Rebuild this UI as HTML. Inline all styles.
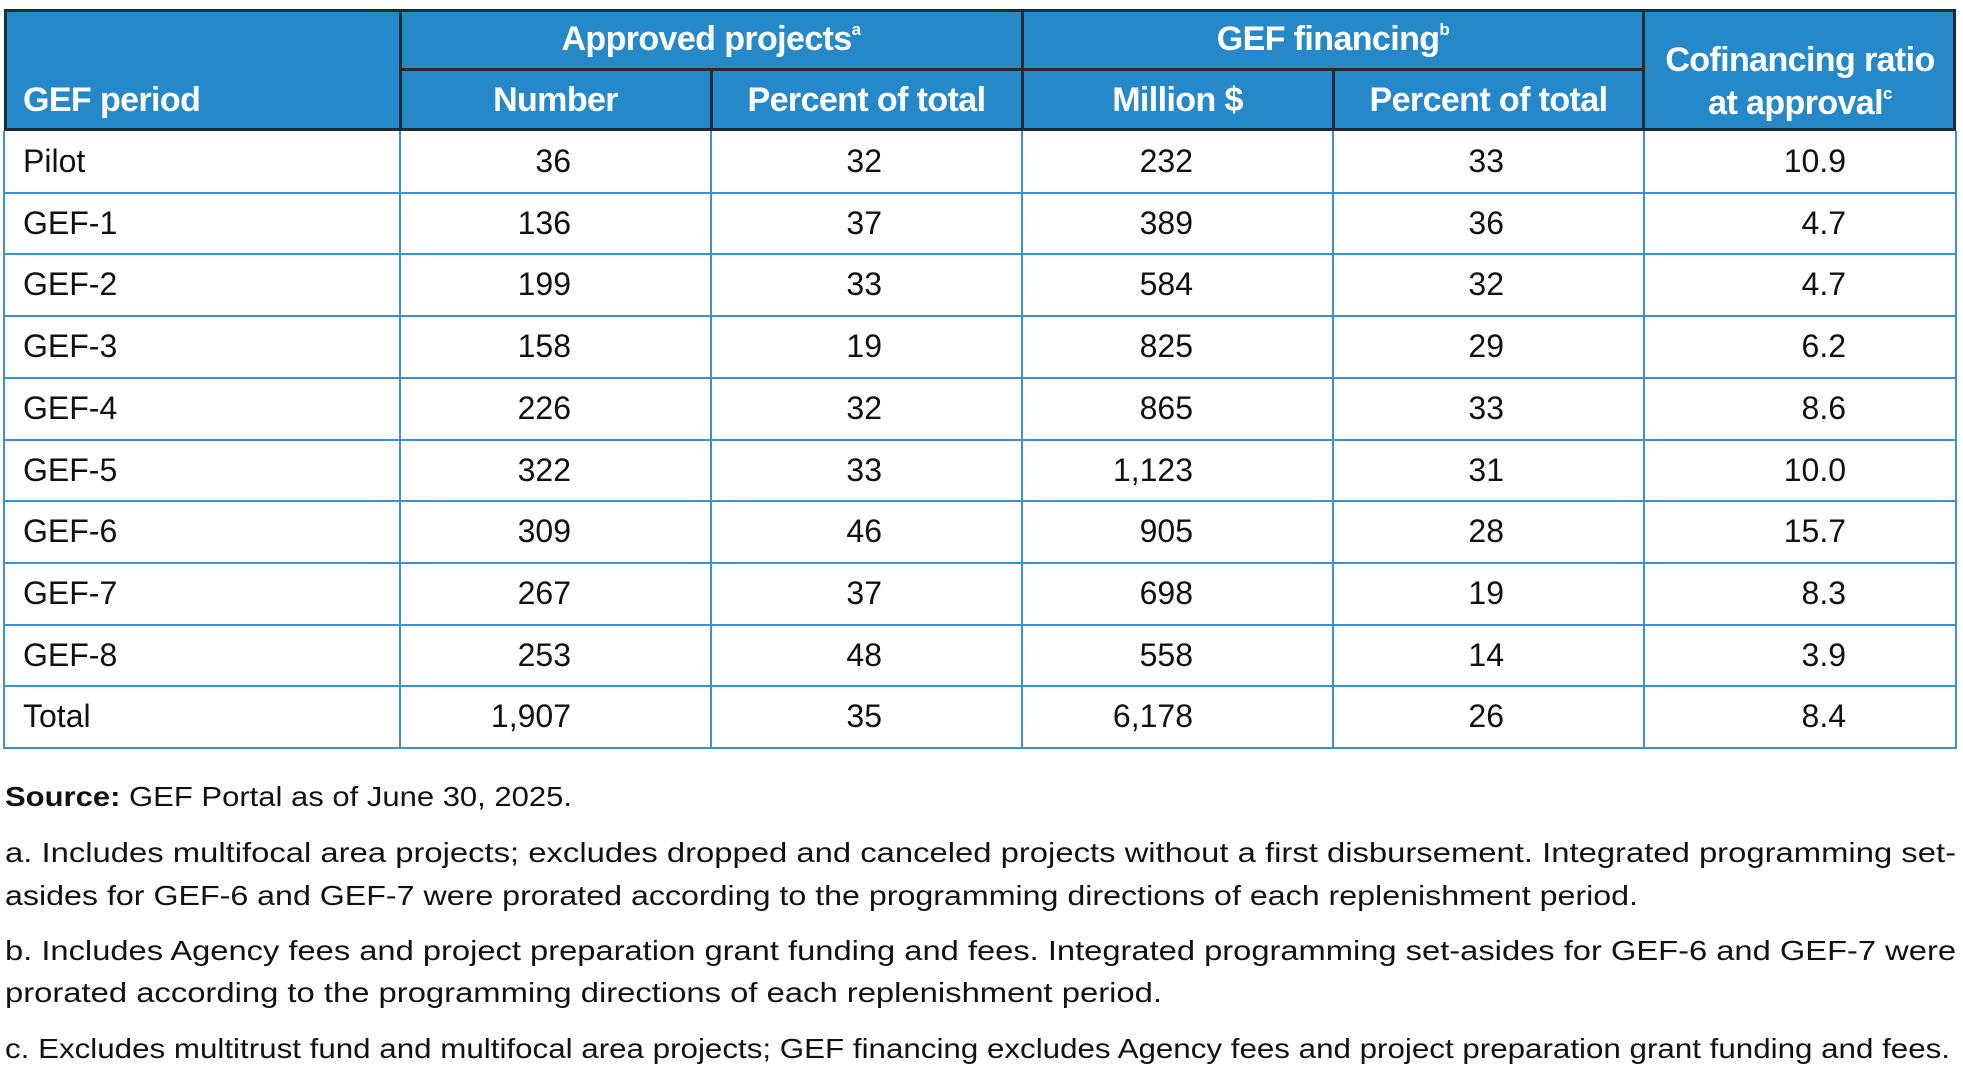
<!DOCTYPE html>
<html><head><meta charset="utf-8">
<style>
body{margin:0;width:1963px;height:1087px;background:#fff;position:relative;overflow:hidden;font-family:"Liberation Sans",sans-serif;}
#hdr{position:absolute;left:4px;top:9px;width:1952px;height:122px;background:#2589c9;box-sizing:border-box;border:3px solid #1b2b3a;}
.hl{position:absolute;background:#1b2b3a;}
.ht{position:absolute;color:#fff;font-weight:bold;font-size:34px;letter-spacing:-0.6px;white-space:nowrap;text-align:center;}
.ht sup{font-size:17px;vertical-align:15px;}
.cell{position:absolute;font-size:32px;color:#111;white-space:nowrap;line-height:61px;}
.gl{position:absolute;background:#3a90d0;}
</style></head><body>
<div id="hdr"></div>
<div class="hl" style="left:399px;top:9px;width:3px;height:122px"></div>
<div class="hl" style="left:1642px;top:9px;width:3px;height:122px"></div>
<div class="hl" style="left:1021px;top:9px;width:3px;height:122px"></div>
<div class="hl" style="left:710px;top:68px;width:3px;height:63px"></div>
<div class="hl" style="left:1332px;top:68px;width:3px;height:63px"></div>
<div class="hl" style="left:399px;top:68px;width:1245px;height:3px"></div>
<div class="ht" style="left:23px;top:81px;text-align:left">GEF period</div>
<div class="ht" style="left:400px;width:622px;top:20px">Approved projects<sup>a</sup></div>
<div class="ht" style="left:1022px;width:622px;top:20px">GEF financing<sup>b</sup></div>
<div class="ht" style="left:400px;width:311px;top:81px">Number</div>
<div class="ht" style="left:711px;width:311px;top:81px">Percent of total</div>
<div class="ht" style="left:1022px;width:311px;top:81px">Million $</div>
<div class="ht" style="left:1333px;width:311px;top:81px">Percent of total</div>
<div class="ht" style="left:1644px;width:312px;top:41px">Cofinancing ratio</div>
<div class="ht" style="left:1644px;width:312px;top:84px">at approval<sup>c</sup></div>
<div id="body"></div>
<svg width="1963" height="1087" style="position:absolute;left:0;top:0">
<g font-family="Liberation Sans, sans-serif" font-size="28" fill="#111">
<text x="5" y="806" textLength="567" lengthAdjust="spacingAndGlyphs"><tspan font-weight="bold">Source:</tspan> GEF Portal as of June 30, 2025.</text>
<text x="5" y="862" textLength="1951" lengthAdjust="spacingAndGlyphs">a. Includes multifocal area projects; excludes dropped and canceled projects without a first disbursement. Integrated programming set-</text>
<text x="5" y="905" textLength="1633" lengthAdjust="spacingAndGlyphs">asides for GEF-6 and GEF-7 were prorated according to the programming directions of each replenishment period.</text>
<text x="5" y="960" textLength="1951" lengthAdjust="spacingAndGlyphs">b. Includes Agency fees and project preparation grant funding and fees. Integrated programming set-asides for GEF-6 and GEF-7 were</text>
<text x="5" y="1002" textLength="1157" lengthAdjust="spacingAndGlyphs">prorated according to the programming directions of each replenishment period.</text>
<text x="5" y="1058" textLength="1945" lengthAdjust="spacingAndGlyphs">c. Excludes multitrust fund and multifocal area projects; GEF financing excludes Agency fees and project preparation grant funding and fees.</text>
</g></svg>
<script>
const periods=["Pilot","GEF-1","GEF-2","GEF-3","GEF-4","GEF-5","GEF-6","GEF-7","GEF-8","Total"];
const numbers=["36","136","199","158","226","322","309","267","253","1,907"];
const pctProjects=["32","37","33","19","32","33","46","37","48","35"];
const millions=["232","389","584","825","865","1,123","905","698","558","6,178"];
const pctFinancing=["33","36","32","29","33","31","28","19","14","26"];
const cofinancing=["10.9","4.7","4.7","6.2","8.6","10.0","15.7","8.3","3.9","8.4"];
const body=document.getElementById('body');
const top0=131,rh=61.7;
const cols=[4,400,711,1022,1333,1644,1956];
const rightPad=[0,140,140,140,140,110];
const series=[periods,numbers,pctProjects,millions,pctFinancing,cofinancing];
const names=['period','number','percent-projects','million','percent-financing','cofinancing'];
for(let r=0;r<periods.length;r++){
  const y=top0+r*rh;
  for(let c=0;c<6;c++){
    const d=document.createElement('div');
    d.className='cell';
    
    
    d.textContent=series[c][r];
    d.style.top=y+'px';
    if(c===0){d.style.left='23px';}
    else{d.style.right=(1963-cols[c+1]+rightPad[c])+'px';}
    body.appendChild(d);
  }
  const l=document.createElement('div');
  l.className='gl';
  
  
  l.style.cssText='left:4px;width:1952px;height:2px;top:'+(y+rh-1)+'px';
  body.appendChild(l);
}
const bottom=top0+periods.length*rh;
for(let c=0;c<cols.length;c++){
  const v=document.createElement('div');
  v.className='gl';
  
  
  v.style.cssText='width:2px;left:'+(cols[c]-1)+'px;top:'+top0+'px;height:'+(bottom-top0+1)+'px';
  body.appendChild(v);
}
</script>
</body></html>
